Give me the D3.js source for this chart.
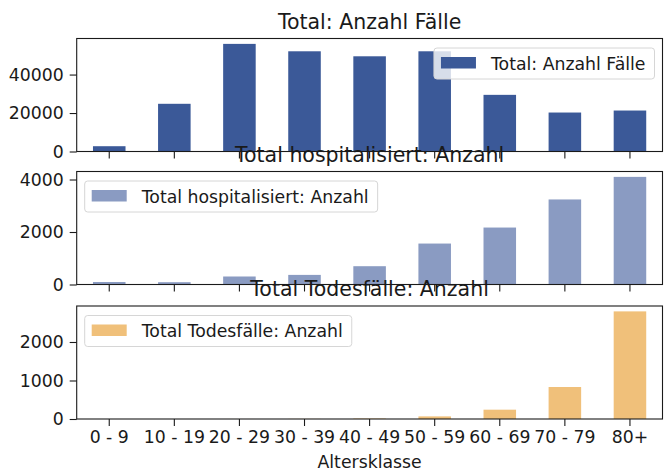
<!DOCTYPE html>
<html>
<head>
<meta charset="utf-8">
<script src="https://cdn.jsdelivr.net/npm/d3@7"></script>
<style>
  body { margin: 0; background: #fff; }
  text { font-family: "DejaVu Sans", sans-serif; fill: #1a1a1a; }
</style>
</head>
<body>
<svg id="chart"></svg>
<script>
var screen = {width: 664, height: 474}

// data
var ageGroups = ["0 - 9", "10 - 19", "20 - 29", "30 - 39", "40 - 49", "50 - 59", "60 - 69", "70 - 79", "80+"]
var faelle = [2750, 24800, 55950, 52100, 49500, 52100, 29450, 20260, 21300]
var hospitalisiert = [95, 88, 305, 366, 697, 1560, 2170, 3240, 4100]
var todesfaelle = [0, 0, 1, 3, 12, 68, 242, 831, 2795]

var ticksFaelle = [0, 20000, 40000]
var ticksHosp = [0, 2000, 4000]
var ticksTod = [0, 1000, 2000]

var titles = ["Total: Anzahl Fälle", "Total hospitalisiert: Anzahl", "Total Todesfälle: Anzahl"]
var colors = ["#3b5998", "#8a9bc2", "#f0c07a"]

var margins = {left: 76.7, right: 1.5}
var panelTops = [38.5, 171.5, 306]
var panelHeight = 113
var fontSize = "17.3px"

var svg = d3.select("#chart")
    .attr("width", screen.width)
    .attr("height", screen.height)

var xScale = d3.scaleBand()
    .domain(ageGroups)
    .range([margins.left, screen.width - margins.right])
    .paddingInner(0.5)
    .paddingOuter(0.25)

var panels = [
    {values: faelle, ticks: ticksFaelle, legendRight: true},
    {values: hospitalisiert, ticks: ticksHosp, legendRight: false},
    {values: todesfaelle, ticks: ticksTod, legendRight: false}
]

panels.forEach(function(p, i)
{
    var top = panelTops[i]
    var bottom = top + panelHeight
    var yScale = d3.scaleLinear()
        .domain([0, d3.max(p.values) * 1.05])
        .range([bottom, top])

    var g = svg.append("g").attr("class", "panel")

    g.selectAll("rect.bar")
        .data(p.values)
        .enter()
        .append("rect")
        .attr("class", "bar")
        .attr("x", function(d, j) { return xScale(ageGroups[j]) })
        .attr("width", xScale.bandwidth())
        .attr("y", function(d) { return yScale(d) })
        .attr("height", function(d) { return yScale(0) - yScale(d) })
        .attr("fill", colors[i])

    // frame
    g.append("rect")
        .attr("x", margins.left)
        .attr("y", top)
        .attr("width", screen.width - margins.right - margins.left)
        .attr("height", panelHeight)
        .attr("fill", "none")
        .attr("stroke", "#1a1a1a")
        .attr("stroke-width", 1.1)

    var yAxis = d3.axisLeft(yScale)
        .tickValues(p.ticks)
        .tickSize(7)
        .tickPadding(6)
        .tickFormat(d3.format("d"))
    var ya = g.append("g")
        .attr("transform", "translate(" + margins.left + ",0)")
        .call(yAxis)
    ya.select(".domain").remove()

    var xAxis = d3.axisBottom(xScale)
        .tickSize(7)
        .tickPadding(5)
    if (i < 2) xAxis.tickFormat("")
    var xa = g.append("g")
        .attr("transform", "translate(0," + bottom + ")")
        .call(xAxis)
    xa.select(".domain").remove()

    g.selectAll(".tick line").attr("stroke", "#1a1a1a").attr("stroke-width", 1.1)
    g.selectAll(".tick text")
        .attr("fill", "#1a1a1a")
        .style("font-size", fontSize)
        .style("font-family", "DejaVu Sans")

    // legend
    var label = titles[i]
    var lg = g.append("g")
    var txt = lg.append("text")
        .text(label)
        .style("font-size", fontSize)
    var tw = txt.node().getComputedTextLength()
    var boxW = tw + 66
    var boxH = 31
    var bx = p.legendRight ? (screen.width - margins.right - 8 - boxW) : (margins.left + 8)
    var by = top + 9.5
    lg.insert("rect", "text")
        .attr("x", bx)
        .attr("y", by)
        .attr("width", boxW)
        .attr("height", boxH)
        .attr("rx", 3)
        .attr("fill", "#fff")
        .attr("fill-opacity", 0.8)
        .attr("stroke", "#d6d6d6")
    lg.insert("rect", "text")
        .attr("x", bx + 7)
        .attr("y", by + 9)
        .attr("width", 35)
        .attr("height", 11.5)
        .attr("fill", colors[i])
    txt.attr("x", bx + 57)
        .attr("y", by + 21.5)
})

// titles on top of everything
panelTops.forEach(function(top, i)
{
    svg.append("text")
        .attr("x", (margins.left + screen.width - margins.right) / 2)
        .attr("y", top - 10)
        .attr("text-anchor", "middle")
        .style("font-size", "20.5px")
        .text(titles[i])
})

svg.append("text")
    .attr("x", (margins.left + screen.width - margins.right) / 2)
    .attr("y", 468)
    .attr("text-anchor", "middle")
    .style("font-size", fontSize)
    .text("Altersklasse")
</script>
</body>
</html>
